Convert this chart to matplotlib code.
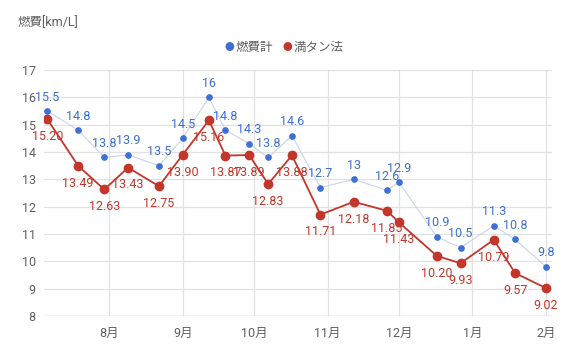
import datetime as dt
import matplotlib
matplotlib.use('Agg')
import matplotlib.pyplot as plt
import matplotlib.dates as mdates

plt.rcParams['font.family'] = ['Roboto', 'Noto Sans CJK JP', 'DejaVu Sans']

# refuel dates
dates = ['2020-07-06', '2020-07-19', '2020-07-30', '2020-08-09', '2020-08-22',
         '2020-09-01', '2020-09-12', '2020-09-19', '2020-09-29', '2020-10-07',
         '2020-10-17', '2020-10-29', '2020-11-12', '2020-11-26', '2020-12-01',
         '2020-12-17', '2020-12-27', '2021-01-10', '2021-01-19', '2021-02-01']
meter = [15.5, 14.8, 13.8, 13.9, 13.5, 14.5, 16, 14.8, 14.3, 13.8,
         14.6, 12.7, 13, 12.6, 12.9, 10.9, 10.5, 11.3, 10.8, 9.8]
fulltank = [15.20, 13.49, 12.63, 13.43, 12.75, 13.90, 15.16, 13.87, 13.89, 12.83,
            13.88, 11.71, 12.18, 11.85, 11.43, 10.20, 9.93, 10.79, 9.57, 9.02]
meter_labels = ['15.5', '14.8', '13.8', '13.9', '13.5', '14.5', '16', '14.8', '14.3', '13.8',
                '14.6', '12.7', '13', '12.6', '12.9', '10.9', '10.5', '11.3', '10.8', '9.8']
month_ticks = ['2020-08-01', '2020-09-01', '2020-10-01', '2020-11-01',
               '2020-12-01', '2021-01-01', '2021-02-01']
month_labels = ['8月', '9月', '10月', '11月', '12月', '1月', '2月']
series_names = ['燃費計', '満タン法']

BLUE = '#3d6fd5'
RED = '#c3362b'
GRID = '#e2e2e2'
TXT = '#5f5f5f'

x = [dt.datetime.strptime(d, '%Y-%m-%d') for d in dates]
xt = [dt.datetime.strptime(d, '%Y-%m-%d') for d in month_ticks]

fig = plt.figure(figsize=(5.7, 3.52), dpi=100)
ax = fig.add_axes([0.0772, 0.1023, 0.8908, 0.6987])

ax.plot(x, meter, color='#c8d4ee', lw=0.8, zorder=2)
ax.plot(x, meter, ls='none', marker='o', ms=3.8, color=BLUE, mec=BLUE, zorder=4)
ax.plot(x, fulltank, color=RED, lw=1.3, marker='o', ms=6, mec=RED, zorder=3)

for xi, yi, s in zip(x, meter, meter_labels):
    ax.annotate(s, (xi, yi), xytext=(0, 10), textcoords='offset points',
                ha='center', va='center', fontsize=9, color=BLUE, zorder=5)
for xi, yi in zip(x, fulltank):
    ax.annotate(f'{yi:.2f}', (xi, yi), xytext=(0, -12.5), textcoords='offset points',
                ha='center', va='center', fontsize=9, color=RED, zorder=5)

ax.set_xlim(dt.datetime(2020, 7, 4, 14), dt.datetime(2021, 2, 3, 10))
ax.set_ylim(8, 17)
ax.set_yticks(range(8, 18))
ax.set_xticks(xt)
ax.set_xticklabels(month_labels)
ax.grid(True, color=GRID, lw=0.9)
ax.set_axisbelow(True)
for sp in ax.spines.values():
    sp.set_visible(False)
ax.axhline(8, color='#d0d0d0', lw=1, zorder=1)
ax.tick_params(length=0, labelsize=9, colors=TXT, pad=6)
ax.tick_params(axis='x', pad=8)

fig.text(18 / 570, 1 - 23 / 352, '燃費[km/L]', fontsize=9, color=TXT, va='center', ha='left')

# legend
fig.text(229 / 570, 1 - 47 / 352, '●', fontsize=7, color=BLUE, va='center', ha='center')
fig.text(236 / 570, 1 - 47 / 352, series_names[0], fontsize=9, color=TXT, va='center', ha='left')
fig.text(287 / 570, 1 - 47 / 352, '●', fontsize=7, color=RED, va='center', ha='center')
fig.text(294 / 570, 1 - 47 / 352, series_names[1], fontsize=9, color=TXT, va='center', ha='left')

fig.savefig('out.png', dpi=100, facecolor='white')
